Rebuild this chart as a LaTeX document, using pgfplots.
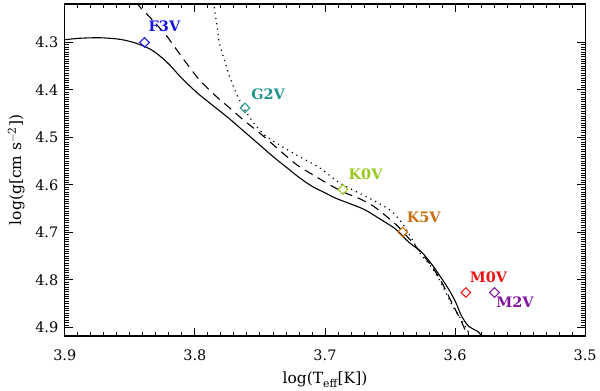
\documentclass[border=0pt]{standalone}
\usepackage{pgfplots}
\pgfplotsset{compat=1.18}
\usepackage{fontspec}
\setmainfont{DejaVu Serif}
\usetikzlibrary{calc}
\definecolor{cF}{RGB}{20,20,230}
\definecolor{cG}{RGB}{30,150,140}
\definecolor{cK0}{RGB}{150,200,30}
\definecolor{cK5}{RGB}{200,110,20}
\definecolor{cM0}{RGB}{240,20,20}
\definecolor{cM2}{RGB}{130,20,160}
\begin{document}
\begin{tikzpicture}
\begin{axis}[name=ax,
  scale only axis, width=522pt, height=333pt,
  x dir=reverse, y dir=reverse,
  xmin=3.5, xmax=3.9, ymin=4.219, ymax=4.918,
  xtick={3.5,3.6,3.7,3.8,3.9}, ytick={4.3,4.4,4.5,4.6,4.7,4.8,4.9},
  minor x tick num=9, minor y tick num=19,
  xticklabel style={/pgf/number format/fixed,/pgf/number format/precision=1,/pgf/number format/fixed zerofill},
  yticklabel style={/pgf/number format/fixed,/pgf/number format/precision=1,/pgf/number format/fixed zerofill},
  /pgf/number format/assume math mode=true,
  tick align=inside, major tick length=8pt, minor tick length=4pt,
  tick style={black, line width=0.9pt},
  axis line style={line width=1.1pt},
  ticklabel style={font=\fontsize{14.5}{16}\selectfont},
  xlabel={log(T\textsubscript{eff}[K])}, ylabel={log(g[cm s\textsuperscript{$-$2}])},
  label style={font=\fontsize{15.5}{17}\selectfont},
  xlabel style={yshift=-5pt}, ylabel style={yshift=4pt},
  xticklabel shift=10pt, yticklabel shift=3pt,
  clip=true,
]
% solid
\addplot[black, line width=1.1pt, smooth, tension=0.5] coordinates {
(3.9000,4.2943) (3.8885,4.2912) (3.8732,4.2901) (3.8579,4.2933) (3.8464,4.3006) (3.8349,4.3132)
(3.8272,4.3279) (3.8195,4.3469) (3.8119,4.3700) (3.8042,4.3910) (3.7966,4.4099) (3.7851,4.4351)
(3.7736,4.4603) (3.7621,4.4876) (3.7506,4.5149) (3.7391,4.5422) (3.7276,4.5674) (3.7199,4.5842)
(3.7100,4.6029) (3.7008,4.6155) (3.6916,4.6281) (3.6816,4.6387) (3.6701,4.6513) (3.6586,4.6702)
(3.6456,4.6933) (3.6356,4.7206) (3.6257,4.7416) (3.6180,4.7668) (3.6126,4.7878) (3.6050,4.8193)
(3.5996,4.8466) (3.5950,4.8760) (3.5897,4.8971) (3.5820,4.9097) (3.5797,4.9191)};
% dashed
\addplot[black, line width=1.1pt, dash pattern=on 9pt off 6pt, smooth, tension=0.5] coordinates {
(3.8448,4.2145) (3.8425,4.2244) (3.8349,4.2460) (3.8272,4.2691) (3.8218,4.2859) (3.8157,4.3090)
(3.8096,4.3321) (3.8027,4.3574) (3.7966,4.3784) (3.7851,4.4099) (3.7736,4.4372) (3.7621,4.4645)
(3.7506,4.4897) (3.7391,4.5170) (3.7276,4.5443) (3.7199,4.5611) (3.7084,4.5800) (3.6969,4.5989)
(3.6854,4.6157) (3.6739,4.6283) (3.6625,4.6452) (3.6510,4.6702) (3.6433,4.6891) (3.6303,4.7290)
(3.6180,4.7710) (3.6103,4.8046) (3.6027,4.8466) (3.5950,4.8887) (3.5904,4.9181)};
% dotted
\addplot[black, line width=1.2pt, dash pattern=on 1.2pt off 4.2pt, smooth, tension=0.5] coordinates {
(3.7858,4.2145) (3.7843,4.2418) (3.7828,4.2691) (3.7812,4.3006) (3.7774,4.3363) (3.7736,4.3700)
(3.7697,4.3973) (3.7659,4.4204) (3.7613,4.4435) (3.7544,4.4708) (3.7460,4.4960) (3.7330,4.5191)
(3.7199,4.5401) (3.7046,4.5632) (3.6893,4.5947) (3.6778,4.6115) (3.6686,4.6241) (3.6586,4.6388)
(3.6487,4.6557) (3.6395,4.6851) (3.6318,4.7208) (3.6257,4.7481) (3.6180,4.7733) (3.6103,4.8090)
(3.6027,4.8510) (3.5950,4.8847) (3.5897,4.9099) (3.5874,4.9204)};
% stars
\addplot[cF, only marks, mark=square, mark size=3.4pt, mark options={rotate=45, line width=1.1pt}] coordinates {(3.8387,4.30)};
\addplot[cG, only marks, mark=square, mark size=3.4pt, mark options={rotate=45, line width=1.1pt}] coordinates {(3.7615,4.4378)};
\addplot[cK0, only marks, mark=square, mark size=3.4pt, mark options={rotate=45, line width=1.1pt}] coordinates {(3.6862,4.6095)};
\addplot[cK5, only marks, mark=square, mark size=3.4pt, mark options={rotate=45, line width=1.1pt}] coordinates {(3.6403,4.6992)};
\addplot[cM0, only marks, mark=square, mark size=3.4pt, mark options={rotate=45, line width=1.1pt}] coordinates {(3.5917,4.8265)};
\addplot[cM2, only marks, mark=square, mark size=3.4pt, mark options={rotate=45, line width=1.1pt}] coordinates {(3.5697,4.8265)};
\node[cF, font=\fontsize{14.5}{16}\selectfont\bfseries] at (axis cs:3.8234,4.2664) {F3V};
\node[cG, font=\fontsize{14.5}{16}\selectfont\bfseries] at (axis cs:3.7437,4.41) {G2V};
\node[cK0, font=\fontsize{14.5}{16}\selectfont\bfseries] at (axis cs:3.6688,4.578) {K0V};
\node[cK5, font=\fontsize{14.5}{16}\selectfont\bfseries] at (axis cs:3.6241,4.6689) {K5V};
\node[cM0, font=\fontsize{14.5}{16}\selectfont\bfseries] at (axis cs:3.5743,4.795) {M0V};
\node[cM2, font=\fontsize{14.5}{16}\selectfont\bfseries] at (axis cs:3.5539,4.8462) {M2V};
\end{axis}
\path ($(ax.south west)+(-65pt,-53pt)$) rectangle ($(ax.north east)+(13pt,4pt)$);
\end{tikzpicture}
\end{document}
